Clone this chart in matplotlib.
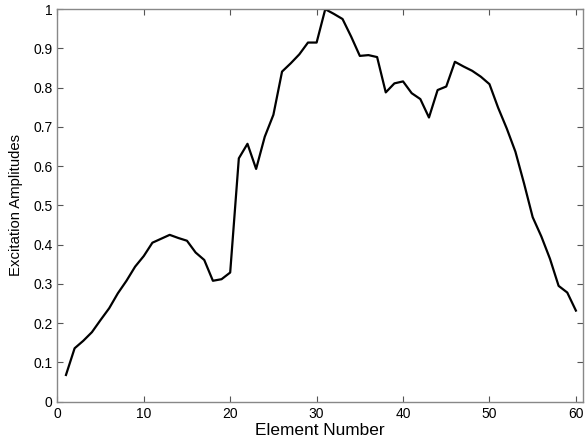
import numpy as np
import matplotlib
matplotlib.use("Agg")
import matplotlib.pyplot as plt

plt.rcParams["font.family"] = ["Liberation Sans", "DejaVu Sans"]

# 阵元编号与激励幅度
element = np.arange(1, 61)
amplitude = [
    0.068, 0.136, 0.155, 0.177, 0.208, 0.238, 0.276, 0.308, 0.344, 0.371,
    0.405, 0.415, 0.425, 0.417, 0.410, 0.380, 0.361, 0.308, 0.312, 0.329,
    0.620, 0.657, 0.593, 0.675, 0.731, 0.841, 0.862, 0.885, 0.915, 0.915,
    1.000, 0.988, 0.975, 0.930, 0.881, 0.883, 0.878, 0.788, 0.811, 0.816,
    0.786, 0.771, 0.724, 0.794, 0.803, 0.866, 0.854, 0.843, 0.828, 0.809,
    0.749, 0.696, 0.637, 0.556, 0.470, 0.421, 0.364, 0.295, 0.278, 0.232,
]
xticks = [0, 10, 20, 30, 40, 50, 60]
yticks = [0, 0.1, 0.2, 0.3, 0.4, 0.5, 0.6, 0.7, 0.8, 0.9, 1]
ytick_labels = ["0", "0.1", "0.2", "0.3", "0.4", "0.5", "0.6", "0.7", "0.8", "0.9", "1"]

fig = plt.figure(figsize=(5.85, 4.38), dpi=100)
ax = fig.add_axes([0.098, 0.083, 0.899, 0.896])
ax.plot(element, amplitude, color="black", linewidth=1.6)

ax.set_xlim(0, 60.85)
ax.set_ylim(0, 1)
ax.set_xticks(xticks)
ax.set_yticks(yticks)
ax.set_yticklabels(ytick_labels)
ax.tick_params(direction="in", top=True, right=True, length=4, width=0.8,
               color="#555555", labelsize=10)
ax.tick_params(axis="y", pad=3.5)
ax.tick_params(axis="x", pad=4)
for s in ax.spines.values():
    s.set_color("#888888")
    s.set_linewidth(1.0)

ax.set_xlabel("Element Number", fontsize=12.4, labelpad=1)
ax.set_ylabel("Excitation Amplitudes", fontsize=10.7, labelpad=7)

fig.savefig("out.png", dpi=100)
